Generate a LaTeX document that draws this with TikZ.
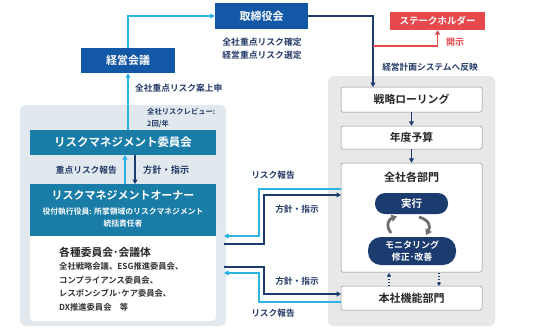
\documentclass[tikz,border=0pt]{standalone}
\usepackage{fontspec}
\setmainfont{Noto Sans CJK JP}[BoldFont={Noto Sans CJK JP Bold}]
\usetikzlibrary{arrows.meta,calc}
\definecolor{dblue}{HTML}{1358A6}
\definecolor{teal}{HTML}{1A7DA8}
\definecolor{navy}{HTML}{1C3C70}
\definecolor{lblue}{HTML}{2BB3E6}
\definecolor{redc}{HTML}{E6484B}
\definecolor{lpanel}{HTML}{E1E9EF}
\definecolor{gpanel}{HTML}{E8E8E8}
\definecolor{txt}{HTML}{243B66}
\definecolor{gtxt}{HTML}{333333}
\definecolor{garrow}{HTML}{6E6E6E}
\begin{document}
\begin{tikzpicture}[x=1pt,y=-1pt,
  bluebox/.style={fill=dblue,text=white,font=\fontsize{11}{12}\selectfont\bfseries,inner sep=0pt},
  tealbox/.style={fill=teal,text=white,inner sep=0pt},
  whitebox/.style={draw=black!45,line width=0.5pt,fill=white,rounded corners=1.5pt,minimum width=141pt,inner sep=0pt,font=\fontsize{10.8}{12}\selectfont\bfseries,text=black!85},
  pill/.style={fill=navy,text=white,rounded corners=10pt,inner sep=0pt,align=center,font=\fontsize{9}{11.5}\selectfont\bfseries},
  lab/.style={text=txt,font=\fontsize{8.7}{10}\selectfont\bfseries,inner sep=0pt},
  darr/.style={navy,line width=1.3pt,-{Triangle[length=4.5pt,width=5pt]}},
  larr/.style={lblue,line width=1.3pt,-{Triangle[length=4.5pt,width=5pt]}},
  rarr/.style={redc,line width=1.3pt,-{Triangle[length=4.5pt,width=5pt]}},
  garr/.style={garrow,line width=2.8pt,-{Triangle[length=5.5pt,width=7pt]}},
  dotarr/.style={navy,line width=1.1pt,dotted,-{Triangle[length=3.5pt,width=4pt]}}
]
\useasboundingbox[fill=white] (0,0) rectangle (533,333);

% panels
\fill[lpanel,rounded corners=6pt] (20,105) rectangle (226,326);
\fill[gpanel,rounded corners=6pt] (328,76) rectangle (495,326);

% top nodes
\node[bluebox,minimum width=93pt,minimum height=26pt] (tori) at (261.5,16) {取締役会};
\node[bluebox,minimum width=94pt,minimum height=25pt] (keiei) at (128,60.5) {経営会議};
\node[fill=redc,text=white,minimum width=95pt,minimum height=18pt,inner sep=0pt,font=\fontsize{9.5}{11}\selectfont\bfseries] (stake) at (437.5,21) {ステークホルダー};

% left panel
\node[tealbox,minimum width=186pt,minimum height=25pt,font=\fontsize{11.5}{12}\selectfont\bfseries] (rmc) at (123,142.5) {リスクマネジメント委員会};
\fill[white,rounded corners=4pt] (30,225) rectangle (216,321);
\node[tealbox,minimum width=186pt,minimum height=52pt] (rmo) at (123,210) {};
\node[text=white,font=\fontsize{11}{12}\selectfont\bfseries,inner sep=0pt] (rmot) at (123,195.5) {リスクマネジメントオーナー};
\node[text=white,font=\fontsize{7.8}{12}\selectfont\bfseries,inner sep=0pt,align=center] (rmos) at (123,218) {役付執行役員: 所掌領域のリスクマネジメント\\統括責任者};
\node[anchor=west,text=black!85,font=\fontsize{10.8}{12}\selectfont\bfseries,inner sep=0pt] (kakushu) at (59,252) {各種委員会･会議体};
\node[anchor=north west,text=gtxt,font=\fontsize{8.3}{13.8}\selectfont\bfseries,inner sep=0pt,align=left] (list) at (59,262)
  {全社戦略会議、ESG推進委員会、\\コンプライアンス委員会、\\レスポンシブル･ケア委員会、\\DX推進委員会\quad 等};
\node[anchor=west,lab,font=\fontsize{7.3}{12}\selectfont\bfseries,align=left] (review) at (147,118) {全社リスクレビュー:\\2回/年};

% right panel boxes
\node[whitebox,minimum height=25pt] (senr) at (411.5,99.5) {戦略ローリング};
\node[whitebox,minimum height=23pt] (nendo) at (411.5,137.5) {年度予算};
\node[whitebox,minimum height=109pt] (zensha) at (411.5,217.5) {};
\node[text=black!85,font=\fontsize{11}{12}\selectfont\bfseries,inner sep=0pt] (zenshat) at (411.5,177) {全社各部門};
\node[pill,minimum width=73pt,minimum height=21pt,font=\fontsize{10.5}{12}\selectfont\bfseries] (jikko) at (411.5,203.5) {実行};
\node[pill,minimum width=88pt,minimum height=28pt,rounded corners=13pt] (moni) at (412,251) {モニタリング\\修正･改善};
\node[whitebox,minimum height=24pt,font=\fontsize{11}{12}\selectfont\bfseries] (honsha) at (411.5,298) {本社機能部門};

% coordinates
\coordinate (j1) at (373,87);
\coordinate (r0) at (373,46);
\coordinate (u1s) at (341,189);
\coordinate (u1e) at (224,236);
\coordinate (u2s) at (224,244);
\coordinate (u2e) at (341,195);
\coordinate (l1s) at (224,267);
\coordinate (l1e) at (341,294);
\coordinate (l2s) at (341,302);
\coordinate (l2e) at (224,273);

% connectors top
\draw[larr] (keiei.north) |- (tori.west);
\draw[larr] (keiei.south |- rmc.north) -- (keiei.south);
\draw[darr] (tori.east) -| (j1);
\draw[rarr] (r0) -| (stake.south);
\draw[darr] (senr.south) -- (nendo.north);
\draw[darr] (nendo.south) -- (zensha.north);

% left panel arrows
\draw[larr] (125,184) -- (125,155);
\draw[darr] (135,155) -- (135,184);

% middle connectors
\draw[larr] (u1s) -- (259,189) -- (259,236) -- (u1e);
\draw[darr] (u2s) -- (264,244) -- (264,195) -- (u2e);
\draw[darr] (l1s) -- (264,267) -- (264,294) -- (l1e);
\draw[larr] (l2s) -- (259,302) -- (259,273) -- (l2e);

% cycle arrows
\draw[garr] (391,233) .. controls (385,225) and (389,219) .. (397,216.5);
\draw[garr] (419,217) .. controls (429,220) and (431,226) .. (426,235);

% dotted arrows
\draw[dotarr] (389,286) -- (389,273);
\draw[dotarr] (439,273) -- (439,286);

% labels
\node[lab,align=center,font=\fontsize{8.8}{13}\selectfont\bfseries] (kakutei) at (262,48.5) {全社重点リスク確定\\経営重点リスク選定};
\node[text=redc,font=\fontsize{9}{10}\selectfont\bfseries,inner sep=0pt] (kaiji) at (455,42) {開示};
\node[lab] (hanei) at (430,67) {経営計画システムへ反映};
\node[lab,anchor=west] (joshin) at (135,88) {全社重点リスク案上申};
\node[lab,anchor=east] (jrh) at (117,170) {重点リスク報告};
\node[lab,anchor=west,font=\fontsize{9.2}{10}\selectfont\bfseries] (hs1) at (143,170) {方針・指示};
\node[lab] (rh1) at (273,175) {リスク報告};
\node[lab] (hs2) at (297,209) {方針・指示};
\node[lab] (hs3) at (297,281) {方針・指示};
\node[lab] (rh2) at (273,313) {リスク報告};
\end{tikzpicture}
\end{document}
